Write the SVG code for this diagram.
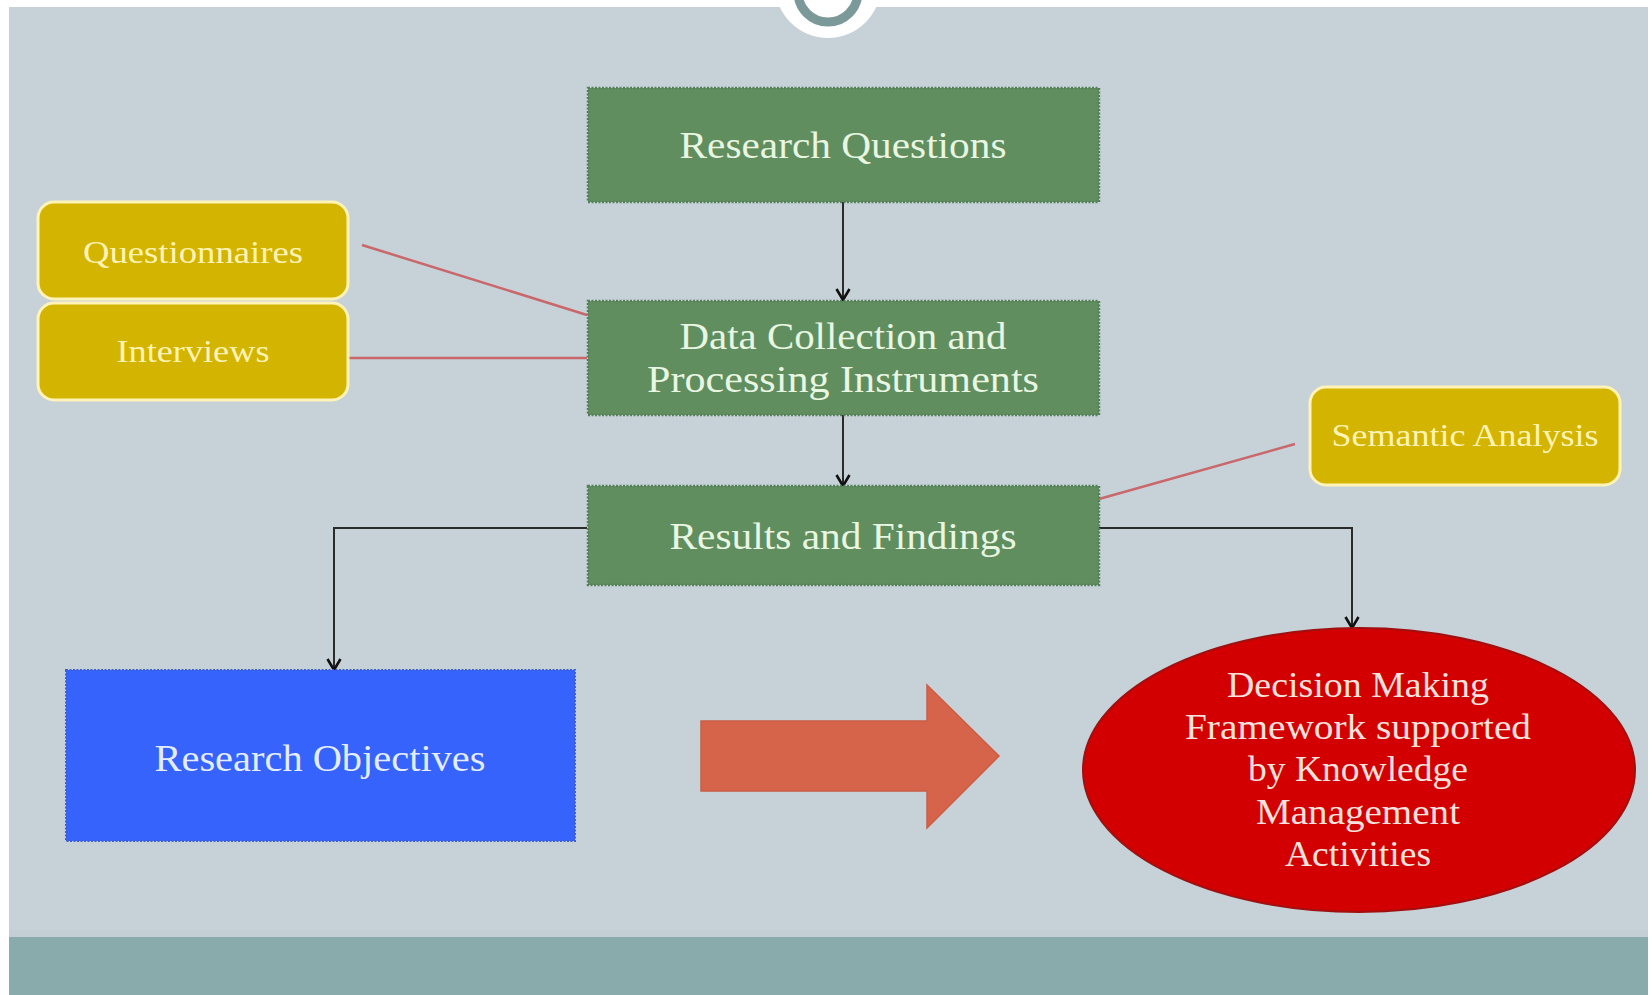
<svg xmlns="http://www.w3.org/2000/svg" width="1652" height="995" viewBox="0 0 1652 995">
  <defs>
    <style>
      .green { fill: #618e5f; stroke: #55805a; stroke-width: 2.5; stroke-dasharray: 2 1.5; }
      .gold { fill: #d3b400; stroke: #fff3b8; stroke-width: 3; }
      .lbl { font-family: "Liberation Serif", "DejaVu Serif", serif; text-anchor: middle; }
      .g-txt { fill: #e8f6e2; font-size: 38px; }
      .y-txt { fill: #fff3b4; font-size: 31px; }
      .link { fill: none; stroke: #2b2b2b; stroke-width: 2; }
      .tie { fill: none; stroke: #c9676a; stroke-width: 2.5; }
    </style>
    <!-- open V head, drawn along +x so orient="auto" follows the line -->
    <marker id="vhead" viewBox="0 0 14 16" refX="12" refY="8" markerWidth="14" markerHeight="16" markerUnits="userSpaceOnUse" orient="auto">
      <path d="M1,1.5 L12,8 L1,14.5" fill="none" stroke="#111" stroke-width="2.6"/>
    </marker>
  </defs>

  <!-- page and slide background -->
  <rect x="0" y="0" width="1652" height="995" fill="#ffffff"/>
  <rect x="9" y="7" width="1639" height="988" fill="#c6d1d8"/>
  <rect x="9" y="937" width="1639" height="58" fill="#8aabab"/>
  <rect x="9" y="930" width="1639" height="7" fill="#c3cfd4"/>

  <!-- top badge -->
  <g id="badge">
    <circle cx="828" cy="-15" r="53" fill="#ffffff"/>
    <circle cx="828" cy="-8" r="30" fill="#ffffff" stroke="#7b9998" stroke-width="9"/>
  </g>

  <!-- connectors -->
  <g id="connectors">
    <line class="link" x1="843" y1="202" x2="843" y2="300" marker-end="url(#vhead)"/>
    <line class="link" x1="843" y1="415" x2="843" y2="486" marker-end="url(#vhead)"/>
    <polyline class="link" points="587,528 334,528 334,670" marker-end="url(#vhead)"/>
    <polyline class="link" points="1099,528 1352,528 1352,628" marker-end="url(#vhead)"/>
    <line class="tie" x1="362" y1="245" x2="587" y2="315"/>
    <line class="tie" x1="348" y1="358" x2="587" y2="358"/>
    <line class="tie" x1="1295" y1="444" x2="1099" y2="499"/>
  </g>

  <g id="research-questions">
    <rect class="green" x="588" y="88" width="511" height="114"/>
    <text class="lbl g-txt" x="843" y="158" textLength="327" lengthAdjust="spacingAndGlyphs">Research Questions</text>
  </g>

  <g id="data-collection">
    <rect class="green" x="588" y="301" width="511" height="114"/>
    <text class="lbl g-txt" x="843" y="349" textLength="327" lengthAdjust="spacingAndGlyphs">Data Collection and</text>
    <text class="lbl g-txt" x="843" y="392" textLength="392" lengthAdjust="spacingAndGlyphs">Processing Instruments</text>
  </g>

  <g id="results-findings">
    <rect class="green" x="588" y="486" width="511" height="99"/>
    <text class="lbl g-txt" x="843" y="549" textLength="347" lengthAdjust="spacingAndGlyphs">Results and Findings</text>
  </g>

  <g id="questionnaires">
    <rect class="gold" x="38" y="202" width="310" height="97" rx="16"/>
    <text class="lbl y-txt" x="193" y="263" textLength="220" lengthAdjust="spacingAndGlyphs">Questionnaires</text>
  </g>

  <g id="interviews">
    <rect class="gold" x="38" y="303" width="310" height="97" rx="16"/>
    <text class="lbl y-txt" x="193" y="362" textLength="153" lengthAdjust="spacingAndGlyphs">Interviews</text>
  </g>

  <g id="semantic-analysis">
    <rect class="gold" x="1310" y="387" width="310" height="98" rx="16"/>
    <text class="lbl y-txt" x="1465" y="446" textLength="267" lengthAdjust="spacingAndGlyphs">Semantic Analysis</text>
  </g>

  <g id="research-objectives">
    <rect x="66" y="670" width="509" height="171" fill="#3563fb" stroke="#3a5fd8" stroke-width="2" stroke-dasharray="2 1.5"/>
    <text class="lbl" x="320" y="771" fill="#e4ecff" font-size="38" textLength="331" lengthAdjust="spacingAndGlyphs">Research Objectives</text>
  </g>

  <g id="block-arrow">
    <polygon points="701,721 927,721 927,685 999,756 927,828 927,791 701,791" fill="#d6644a" stroke="#cc5c44" stroke-width="1.5"/>
  </g>

  <g id="decision-framework">
    <ellipse cx="1359" cy="770" rx="276" ry="142" fill="#d20000" stroke="#a01010" stroke-width="2"/>
    <g class="lbl" fill="#f7e2df" font-size="35">
      <text x="1358" y="697" textLength="262" lengthAdjust="spacingAndGlyphs">Decision Making</text>
      <text x="1358" y="739" textLength="346" lengthAdjust="spacingAndGlyphs">Framework supported</text>
      <text x="1358" y="781" textLength="220" lengthAdjust="spacingAndGlyphs">by Knowledge</text>
      <text x="1358" y="824" textLength="204" lengthAdjust="spacingAndGlyphs">Management</text>
      <text x="1358" y="866" textLength="146" lengthAdjust="spacingAndGlyphs">Activities</text>
    </g>
  </g>
</svg>
